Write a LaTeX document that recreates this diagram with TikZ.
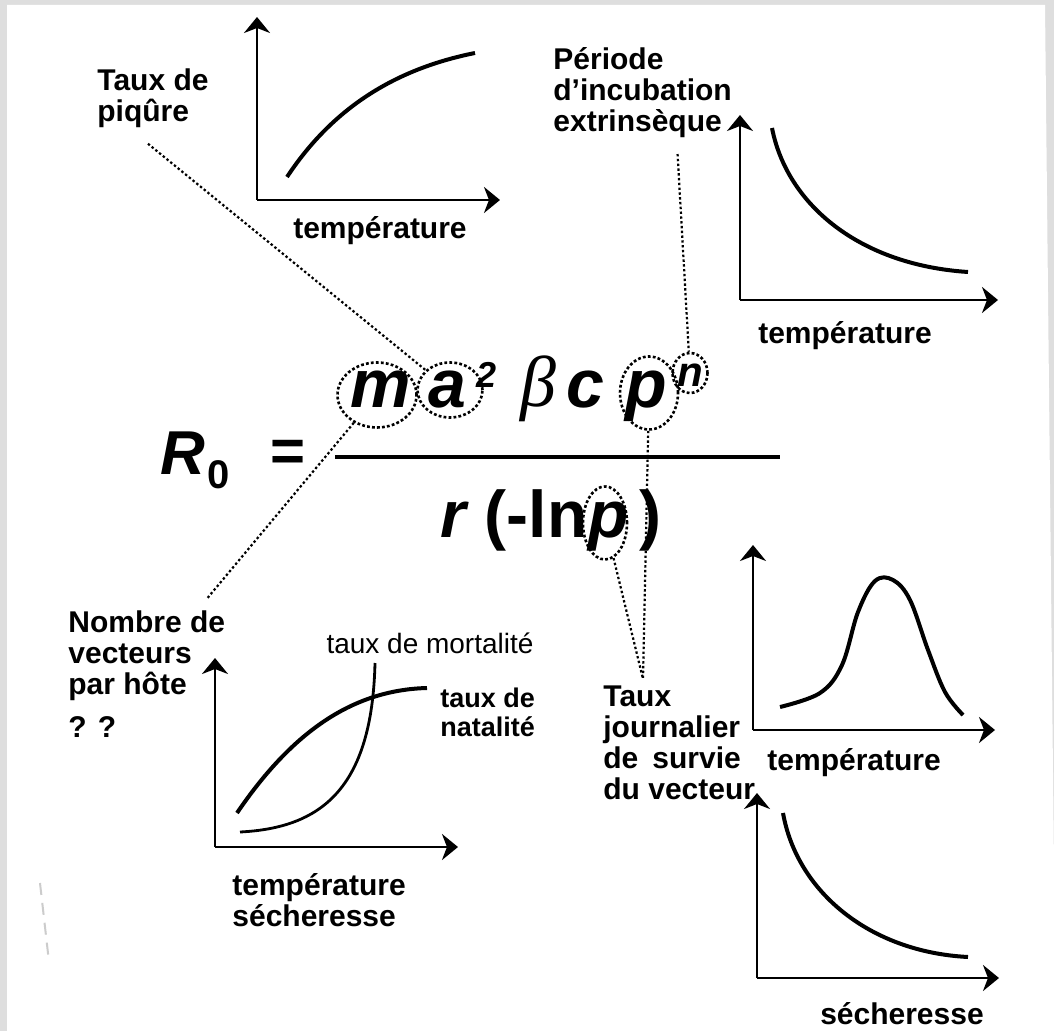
\documentclass[tikz,border=0pt]{standalone}
\usepackage{fontspec}
\setmainfont{Liberation Sans}
\newfontfamily\grec{Liberation Serif}
\usetikzlibrary{shapes.geometric,arrows.meta}

\tikzset{
  axe/.style={line width=1.4pt, -{Stealth[length=8pt,width=13pt,inset=2.5pt]}},
  courbe/.style={line width=2pt},
  lien/.style={line width=1.1pt, dash pattern=on 1.2pt off 1.2pt},
  bulle/.style={ellipse, draw, line width=1.3pt, dash pattern=on 1.4pt off 1.1pt, inner sep=0pt},
  etiq/.style={font=\fontsize{15}{15.5}\selectfont\bfseries, align=left, inner sep=0pt},
  sym/.style={font=\fontsize{34}{34}\selectfont\bfseries\itshape, inner sep=0pt},
}

\begin{document}
\begin{tikzpicture}[x=0.5pt, y=-0.5pt]
    \useasboundingbox (0,0) rectangle (1054,1031);
    % fond
    \fill[black!13] (0,0) rectangle (1054,1031);
    \fill[white] (7,5) -- (1045,5) -- (1054,870) -- (1054,1031) -- (7,1031) -- cycle;
    \draw[black!20, line width=1pt, dash pattern=on 6pt off 4pt] (40,883) -- (49,962);

    % formule
    \node[sym, font=\fontsize{31}{31}\selectfont\bfseries\itshape, anchor=base west] (R) at (160,475) {R};
    \node[font=\fontsize{20}{20}\selectfont\bfseries, inner sep=0pt, anchor=base west] (zero) at (207,489) {0};
    \node[font=\fontsize{30}{30}\selectfont\bfseries, inner sep=0pt] (egal) at (288,456) {=};
    \draw[line width=1.6pt] (335,457) -- (780,457);

    \node[sym, anchor=base] (m) at (381,408) {m};
    \node[sym, anchor=base] (a) at (447,408) {a};
    \node[font=\fontsize{18}{18}\selectfont\bfseries\itshape, inner sep=0pt, anchor=base west] (deux) at (476,388) {2};
    \node[font=\fontsize{36}{36}\selectfont\grec\itshape, inner sep=0pt, anchor=base] (beta) at (538,407) {β};
    \node[sym, anchor=base] (c) at (585,408) {c};
    \node[sym, anchor=base] (p) at (646,408) {p};
    \node[font=\fontsize{21}{21}\selectfont\bfseries\itshape, inner sep=0pt, anchor=base] (n) at (690,387) {n};

    \node[sym, font=\fontsize{33}{33}\selectfont\bfseries\itshape, anchor=base east] (den) at (588,538) {r \upshape(-ln};
    \node[sym, font=\fontsize{33}{33}\selectfont\bfseries\itshape, anchor=base west] (pd) at (588,538) {p};
    \node[font=\fontsize{33}{33}\selectfont\bfseries, inner sep=0pt, anchor=base west] (ferme) at (639,538) {)};

    % bulles
    \node[bulle, minimum width=39.5pt, minimum height=32.5pt] (em) at (377,395) {};
    \node[bulle, minimum width=32.5pt, minimum height=27.5pt] (ea) at (450,390) {};
    \node[bulle, minimum width=29pt, minimum height=36.5pt] (ep) at (649,393) {};
    \node[bulle, minimum width=17.5pt, minimum height=20pt] (en) at (690,373) {};
    \node[bulle, minimum width=22pt, minimum height=36.5pt] (epd) at (605,523) {};

    % en haut a gauche : taux de piqure
    \node[etiq, anchor=north west] (piq) at (97,68) {Taux de\\piqûre};
    \draw[axe] (257,200) -- (257,17);
    \draw[axe] (257,200) -- (500,200);
    \draw[courbe] (287,177) .. controls (330,112) and (390,70) .. (475,53);
    \node[etiq, anchor=north] (t1) at (380,216) {température};

    % en haut a droite : periode d'incubation
    \node[etiq, anchor=north west] (per) at (553,47) {Période\\d’incubation\\extrinsèque};
    \draw[axe] (740,300) -- (740,115);
    \draw[axe] (740,300) -- (998,300);
    \draw[courbe] (772,128) .. controls (787,205) and (860,265) .. (968,272);
    \node[etiq, anchor=north] (t2) at (845,321) {température};

    % en bas a gauche : nombre de vecteurs
    \node[etiq, anchor=north west] (nomb) at (68,610) {Nombre de\\vecteurs\\par hôte\\[6pt]? ?};
    \draw[axe] (215,847) -- (215,658);
    \draw[axe] (215,847) -- (458,847);
    \draw[courbe] (237,813) .. controls (290,735) and (350,690) .. (427,688);
    \draw[line width=1.4pt] (240,832) .. controls (320,828) and (372,790) .. (375,663);
    \node[font=\fontsize{14}{14}\selectfont, inner sep=0pt, anchor=north] (mort) at (430,632) {taux de mortalité};
    \node[etiq, font=\fontsize{13.5}{14.5}\selectfont\bfseries, anchor=north west] (nat) at (440,688) {taux de\\natalité};
    \node[etiq, anchor=north west] (t3) at (232,873) {température\\sécheresse};

    % en bas a droite : taux de survie
    \node[etiq, anchor=north west] (tj) at (603,685) {Taux\\journalier\\de\hspace{7pt}survie\\du vecteur};
    \draw[axe] (753,730) -- (753,545);
    \draw[axe] (753,730) -- (995,730);
    \draw[courbe] plot[smooth, tension=0.6] coordinates {(780,707) (820,693) (842,665) (858,612) (875,581) (893,580) (910,600) (928,650) (945,692) (963,715)};
    \node[etiq, anchor=north west] (t4) at (767,748) {température};
    \draw[axe] (757,978) -- (757,793);
    \draw[axe] (757,978) -- (999,978);
    \draw[courbe] (783,813) .. controls (797,892) and (870,952) .. (968,957);
    \node[etiq, anchor=north] (sech) at (902,1002) {sécheresse};

    % liens pointilles
    \coordinate (jn) at ([shift={(20pt,3pt)}]tj.north west);
    \draw[lien] ([shift={(-2.5pt,-8pt)}]piq.south) -- (ea);
    \draw[lien] ([shift={(17.5pt,-8pt)}]per.south) -- (en);
    \draw[lien] (em) -- ([shift={(-9pt,6pt)}]nomb.north east);
    \draw[lien] (ep) -- (jn);
    \draw[lien] (epd) -- (jn);
\end{tikzpicture}
\end{document}
